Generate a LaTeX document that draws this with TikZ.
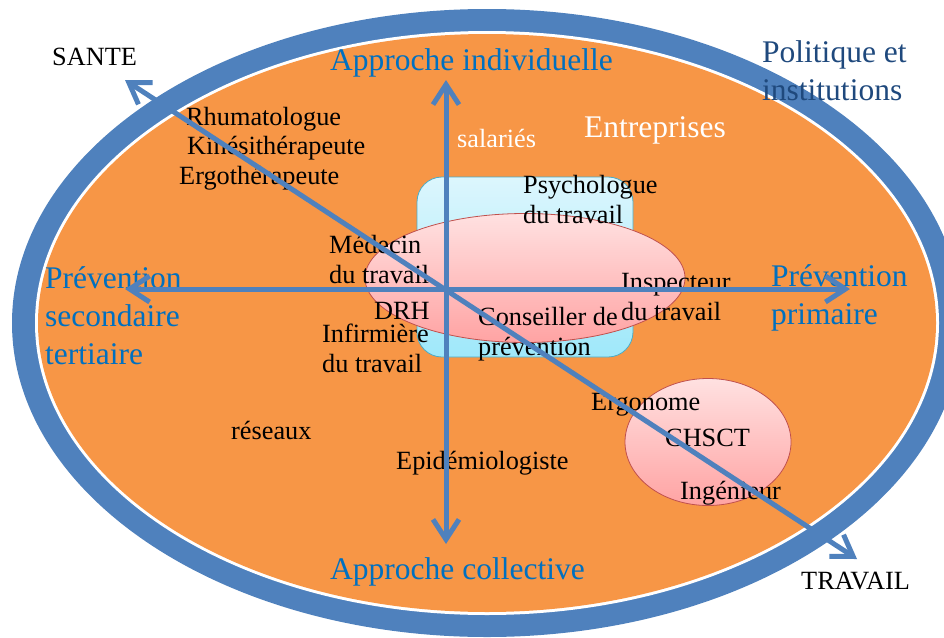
\documentclass[tikz,border=0pt]{standalone}
\usepackage{fontspec}
\setmainfont{Liberation Serif}
\usetikzlibrary{arrows.meta,shapes.geometric}
\definecolor{ringblue}{HTML}{4F81BD}
\definecolor{fondorange}{HTML}{F79646}
\definecolor{axeblue}{HTML}{0070C0}
\definecolor{politblue}{HTML}{1F497D}
\definecolor{cyanhaut}{HTML}{DCF6FD}
\definecolor{cyanbas}{HTML}{9FE8FA}
\definecolor{cyanbord}{HTML}{4BACC6}
\definecolor{rosehaut}{HTML}{FFE1E1}
\definecolor{rosebas}{HTML}{FFA3A3}
\definecolor{rosebord}{HTML}{C0504D}
\begin{document}
\begin{tikzpicture}[x=1pt, y=-1pt,
  metier/.style={inner sep=0, anchor=base west, align=left, font=\fontsize{26.3}{30}\selectfont},
  titre/.style={inner sep=0, anchor=base west, align=left, text=axeblue, font=\fontsize{31.5}{38}\selectfont},
  axe/.style={ringblue, line width=5pt, {Straight Barb[length=20pt,width=26pt]}-{Straight Barb[length=20pt,width=26pt]}},
  zone/.style={ellipse, draw=rosebord, line width=0.8pt, top color=rosehaut, bottom color=rosebas, inner sep=0}]
\clip (0,0) rectangle (944,637);
% ring and background
\fill[ringblue] (487,323) ellipse [x radius=475, y radius=314];
\fill[white] (487,323) ellipse [x radius=452, y radius=292];
\fill[fondorange] (487,323) ellipse [x radius=449, y radius=289];

% zones
\node[draw=cyanbord, line width=0.8pt, rounded corners=25pt, top color=cyanhaut, bottom color=cyanbas,
  minimum width=216pt, minimum height=180pt] (psyzone) at (525,267) {};
\node[zone, minimum width=320pt, minimum height=129pt] (pinkzone) at (525,278) {};
\node[zone, minimum width=166pt, minimum height=127pt] (chsctzone) at (708,442) {};

% labels (multi-line ones sit on their last line)
\node[metier] (sante) at (52,65) {SANTE};
\node[metier] (travail) at (801,589) {TRAVAIL};
\node[metier] (rhumato) at (186,125) {Rhumatologue};
\node[metier] (kine) at (187,154) {Kinésithérapeute};
\node[metier] (ergotherap) at (179,184) {Ergothérapeute};
\node[metier, text=white] (salaries) at (457,147) {salariés};
\node[titre, text=white] (entreprises) at (584,137) {Entreprises};
\node[titre, text=politblue] (politique) at (762,100) {Politique et\\institutions};
\node[metier] (psycho) at (523,223) {Psychologue\\du travail};
\node[metier] (medecin) at (329,283) {Médecin\\du travail};
\node[metier] (drh) at (374,319) {DRH};
\node[metier] (infirmiere) at (322,372) {Infirmière\\du travail};
\node[metier] (conseiller) at (478,355) {Conseiller de\\prévention};
\node[metier] (inspecteur) at (621,320) {Inspecteur\\du travail};
\node[metier] (reseaux) at (231,439) {réseaux};
\node[metier] (epidem) at (396,469) {Epidémiologiste};
\node[metier] (ergonome) at (591,410) {Ergonome};
\node[metier] (chsct) at (665,446) {CHSCT};
\node[metier] (ingenieur) at (680,499) {Ingénieur};
\node[titre] (approcheind) at (330,70) {Approche individuelle};
\node[titre] (approchecol) at (330,579) {Approche collective};
\node[titre] (prevprim) at (771,324) {Prévention\\primaire};
\node[titre] (prevsec) at (45,364) {Prévention\\secondaire\\tertiaire};

% axes
\coordinate (haut) at (446,80);
\coordinate (bas) at (446,544);
\coordinate (gauche) at (125,289);
\coordinate (droite) at (850,289);
\coordinate (santebout) at (125,80);
\coordinate (travailbout) at (857,559);
\draw[axe] (bas) -- (haut);
\draw[axe] (gauche) -- (droite);
\draw[axe] (santebout) -- (travailbout);
\end{tikzpicture}
\end{document}
